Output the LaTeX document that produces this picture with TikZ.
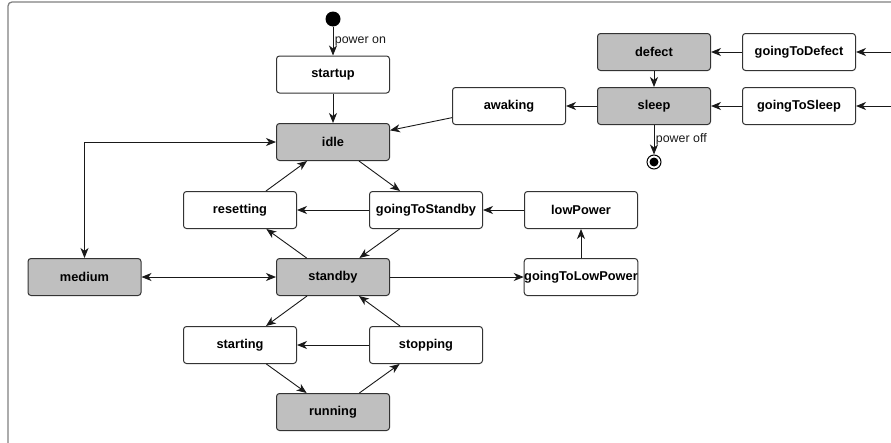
\documentclass[tikz,border=0pt]{standalone}
\usepackage{fontspec}
\setmainfont{Liberation Sans}
\usetikzlibrary{arrows.meta}

\tikzset{
	state/.style={draw=black!80, line width=1pt, rounded corners=3pt,
		minimum width=113pt, minimum height=37pt, inner sep=0pt,
		font=\bfseries\fontsize{12.8}{14}\selectfont},
	busy/.style={state, fill=black!25},
	trans/.style={-{Stealth[length=10pt,width=8pt,inset=3pt]}, line width=0.9pt, black!90},
	twoway/.style={{Stealth[length=10pt,width=8pt,inset=3pt]}-{Stealth[length=10pt,width=8pt,inset=3pt]}, line width=0.9pt, black!90},
	cond/.style={font=\fontsize{12.4}{14}\selectfont, inner sep=1.5pt}
}

\begin{document}
\begin{tikzpicture}[x=1pt,y=-1pt]
	
	\useasboundingbox (0,0) rectangle (891,442);
	
	% Frame
	\draw[gray, line width=1.3pt, rounded corners=4pt] (8,2) rectangle (930,480);
	
	% Pseudo states
	\node[circle, fill=black, minimum size=15pt, inner sep=0pt] (init) at (333,19) {};
	\node[circle, draw=black, line width=1pt, minimum size=14pt, inner sep=0pt] (final) at (654,162) {};
	\fill (final) circle (4.5);
	
	% States, top to bottom
	\node[state] (startup) at (333,74.5) {startup};
	\node[busy]  (idle)    at (333,142)  {idle};
	\node[busy]  (defect)  at (654,52)   {defect};
	\node[state] (goingToDefect) at (799,52) {goingToDefect};
	\node[busy]  (sleep)   at (654,106)  {sleep};
	\node[state] (goingToSleep)  at (799,106) {goingToSleep};
	\node[state] (awaking) at (509,106)  {awaking};
	
	\node[state] (resetting)      at (240,210) {resetting};
	\node[state] (goingToStandby) at (426,210) {goingToStandby};
	\node[state] (lowPower)       at (581,210) {lowPower};
	
	\node[busy]  (medium)  at (84.5,277) {medium};
	\node[busy]  (standby) at (333,277)  {standby};
	\node[state] (goingToLowPower) at (581,277) {goingToLowPower};
	
	\node[state] (starting) at (240,345) {starting};
	\node[state] (stopping) at (426,345) {stopping};
	\node[busy]  (running)  at (333,412) {running};
	
	% Transitions entering from outside
	\coordinate (toDefect) at (905,52);
	\coordinate (toSleep)  at (905,106);
	
	% Transitions
	\draw[trans] (init) -- (startup) node[cond, midway, right] {power on};
	\draw[trans] (sleep) -- (final) node[cond, midway, right] {power off};
	
	\foreach \a/\b in {startup/idle, toDefect/goingToDefect, toSleep/goingToSleep,
		goingToDefect/defect, goingToSleep/sleep, defect/sleep, sleep/awaking,
		awaking/idle, idle/goingToStandby, resetting/idle,
		goingToStandby/resetting, lowPower/goingToStandby,
		goingToStandby/standby, standby/resetting,
		standby/goingToLowPower, goingToLowPower/lowPower,
		standby/starting, stopping/standby, stopping/starting,
		starting/running, running/stopping}
		\draw[trans] (\a) -- (\b);
	
	% Both ways to medium
	\draw[twoway] (idle.west) -| (medium.north);
	\draw[twoway] (medium) -- (standby);
	
\end{tikzpicture}
\end{document}
